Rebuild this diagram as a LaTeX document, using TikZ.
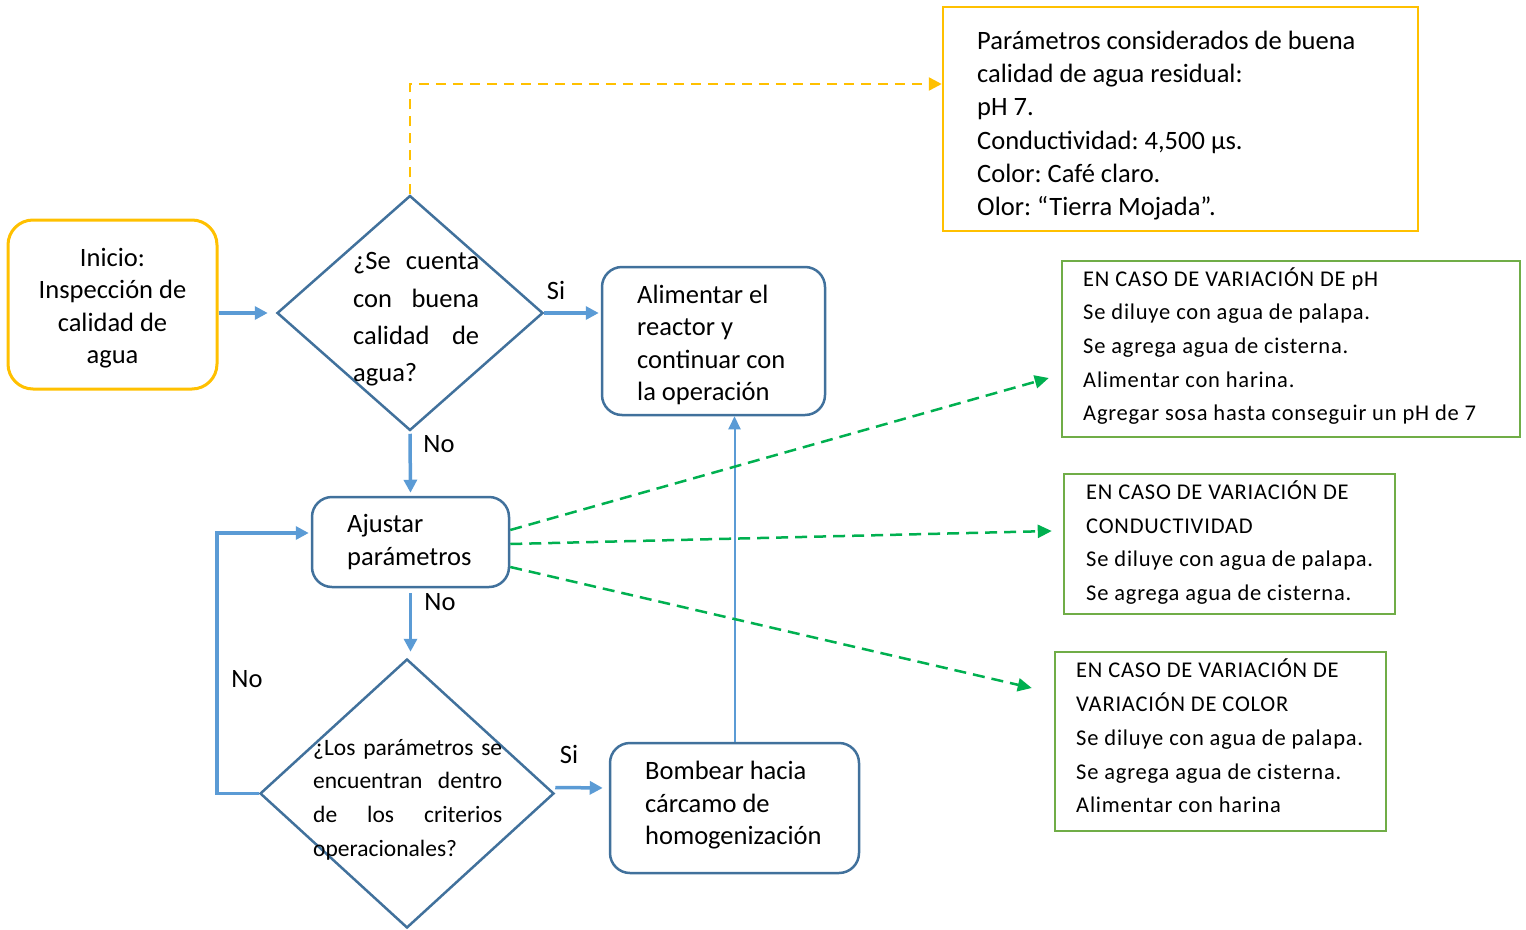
\documentclass[tikz,border=0pt]{standalone}
\usepackage{fontspec}
\setmainfont{Carlito}
\newfontfamily\notefont[LetterSpace=3.5]{Carlito}
\usetikzlibrary{arrows.meta,shapes.geometric}
\definecolor{ambar}{RGB}{255,192,0}
\definecolor{flowblue}{RGB}{91,155,213}
\definecolor{boxblue}{RGB}{65,113,156}
\definecolor{notegreen}{RGB}{112,173,71}
\definecolor{dashgreen}{RGB}{0,176,80}
\frenchspacing
\begin{document}
\begin{tikzpicture}[x=1pt,y=-1pt,
  mainfont/.style={font=\fontsize{26.5}{32.5}\selectfont},
  startbox/.style={draw=ambar,line width=3pt,rounded corners=25pt,inner sep=0pt},
  procbox/.style={draw=boxblue,line width=2.5pt,rounded corners=20pt,inner sep=0pt},
  decision/.style={diamond,draw=boxblue,line width=2.5pt,inner sep=0pt},
  infobox/.style={draw=ambar,line width=2.5pt,inner sep=0pt},
  casebox/.style={draw=notegreen,line width=2.5pt,inner sep=0pt},
  boxtext/.style={anchor=west,align=left,inner sep=0pt,mainfont},
  casetext/.style={anchor=west,align=left,inner sep=0pt,
    font=\notefont\fontsize{22.5}{33.7}\selectfont},
  flow/.style={draw=flowblue,line width=3.5pt,-{Triangle[length=13pt,width=13pt]}},
  thinflow/.style={draw=flowblue,line width=2pt,-{Triangle[length=13pt,width=12pt]}},
  ydash/.style={draw=ambar,line width=2.5pt,dash pattern=on 10pt off 7pt,-{Triangle[length=13pt,width=13pt]}},
  gdash/.style={draw=dashgreen,line width=2.5pt,dash pattern=on 12pt off 7pt,-{Triangle[length=14pt,width=13pt]}},
  lbl/.style={inner sep=0pt,mainfont}]
\useasboundingbox (0,0) rectangle (1526,929);

% flowchart shapes
\node[startbox,minimum width=209pt,minimum height=169pt] (inicio) at (112.5,304.5) {};
\node[decision,minimum width=266pt,minimum height=235pt] (q1) at (410,313) {};
\node[procbox,minimum width=223pt,minimum height=148pt] (alim) at (713.5,341) {};
\node[procbox,minimum width=197pt,minimum height=90pt] (ajust) at (410.5,542) {};
\node[decision,minimum width=294pt,minimum height=269pt] (q2) at (407,793.5) {};
\node[procbox,minimum width=249pt,minimum height=130pt] (bomb) at (734.5,808) {};

% note boxes
\node[infobox,minimum width=475pt,minimum height=224pt] (params) at (1180.5,119) {};
\node[casebox,minimum width=458pt,minimum height=176pt] (casoph) at (1291,349) {};
\node[casebox,minimum width=331pt,minimum height=140pt] (casocond) at (1229.5,544) {};
\node[casebox,minimum width=331pt,minimum height=179pt] (casocolor) at (1220.5,741.5) {};

% texts
\node[align=center,inner sep=0pt,mainfont] (inicio-txt) at (112.5,308)
  {Inicio:\\Inspección de\\calidad de\\agua};
\node[boxtext,text width=126pt,font=\fontsize{26.5}{37.3}\selectfont] (q1-txt) at (353,319.5)
  {\makebox[126pt][s]{¿Se\hfill cuenta}\\\makebox[126pt][s]{con\hfill buena}\\\makebox[126pt][s]{calidad\hfill de}\\agua?};
\node[boxtext] (alim-txt) at (637,345)
  {Alimentar el\\reactor y\\continuar con\\la operación};
\node[boxtext] (ajust-txt) at (347,542) {Ajustar\\parámetros};
\node[boxtext,text width=189pt,font=\fontsize{23.5}{33.7}\selectfont] (q2-txt) at (313,799.5)
  {\makebox[189pt][s]{¿Los\hfill parámetros\hfill se}\\\makebox[189pt][s]{encuentran\hfill dentro}\\\makebox[189pt][s]{de\hfill los\hfill criterios}\\operacionales?};
\node[boxtext] (bomb-txt) at (645,805.5)
  {Bombear hacia\\cárcamo de\\homogenización};
\node[boxtext,font=\fontsize{26.5}{33.2}\selectfont] (params-txt) at (977,125.5)
  {Parámetros considerados de buena\\calidad de agua residual:\\pH 7.\\Conductividad: 4,500 µs.\\Color: Café claro.\\Olor: “Tierra Mojada”.};
\node[casetext] (casoph-txt) at (1083,346)
  {EN CASO DE VARIACIÓN DE pH\\Se diluye con agua de palapa.\\Se agrega agua de cisterna.\\Alimentar con harina.\\Agregar sosa hasta conseguir un pH de 7};
\node[casetext] (casocond-txt) at (1086,542.5)
  {EN CASO DE VARIACIÓN DE\\CONDUCTIVIDAD\\Se diluye con agua de palapa.\\Se agrega agua de cisterna.};
\node[casetext] (casocolor-txt) at (1076,736)
  {EN CASO DE VARIACIÓN DE\\VARIACIÓN DE COLOR\\Se diluye con agua de palapa.\\Se agrega agua de cisterna.\\Alimentar con harina};

% connectors
\draw[flow,shorten >=8pt] (inicio.east |- q1.west) -- (q1.west);
\draw[flow,shorten >=2pt] (q1.east) -- (q1.east -| alim.west);
\draw[flow,shorten <=2pt,shorten >=3pt] (q1.south) -- (ajust.north);
\draw[flow,shorten <=5pt,shorten >=6pt] (ajust.south) -- (ajust.south |- q2.north);
\coordinate (loopcorner) at (217,793.5);
\draw[flow,shorten >=2pt] (q2.west) -- (loopcorner) |- ([yshift=9pt]ajust.west);
\draw[flow,shorten >=6pt] ([yshift=6pt]q2.east) -- ([yshift=20pt]bomb.west);
\draw[thinflow] (bomb.north) -- (bomb.north |- alim.south);
\draw[ydash] (q1.north) |- ([yshift=35pt]params.west);
\draw[gdash] ([yshift=12pt]ajust.east) -- ([xshift=-12pt,yshift=-29pt]casoph.west);
\draw[gdash] ([yshift=-2pt]ajust.east) -- ([xshift=-11pt,yshift=13pt]casocond.west);
\draw[gdash] ([yshift=-25pt]ajust.east) -- ([xshift=-22pt,yshift=53.5pt]casocolor.west);

% branch labels
\node[lbl] (si1) at (556,290) {Si};
\node[lbl] (no1) at (439,444) {No};
\node[lbl] (no2) at (440,602) {No};
\node[lbl] (no3) at (247,679) {No};
\node[lbl] (si2) at (569,754) {Si};
\end{tikzpicture}
\end{document}
